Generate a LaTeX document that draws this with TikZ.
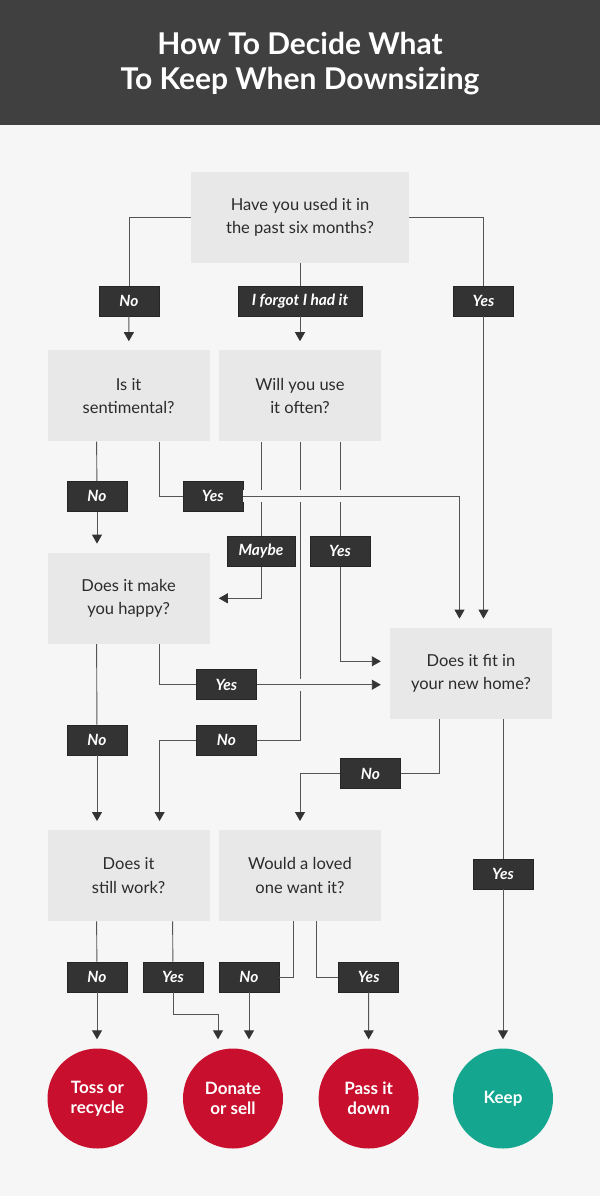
\documentclass[tikz,border=0pt]{standalone}
\usepackage{fontspec}
\setmainfont{Lato}
\usetikzlibrary{positioning,arrows.meta}

\definecolor{bgcol}{HTML}{F6F6F6}
\definecolor{headcol}{HTML}{404040}
\definecolor{boxcol}{HTML}{E8E8E8}
\definecolor{txtcol}{HTML}{2B2B2B}
\definecolor{tagcol}{HTML}{333333}
\definecolor{linecol}{HTML}{555555}
\definecolor{tosscol}{HTML}{C8102E}
\definecolor{keepcol}{HTML}{14A68E}

\tikzset{
	question/.style = {fill=boxcol, minimum width=162pt, minimum height=91pt,
		inner sep=0pt, align=center, text=txtcol,
		font=\fontsize{16.5}{23.5}\selectfont},
	answer/.style = {fill=tagcol, draw=black!85, line width=0.6pt,
		minimum width=60pt, minimum height=30pt, inner sep=0pt, text=white,
		font=\fontsize{15.5}{16}\selectfont\bfseries\itshape},
	outcome/.style = {circle, minimum size=100pt, inner sep=0pt, align=center,
		text=white, font=\fontsize{17}{20}\selectfont\bfseries},
	flow/.style = {draw=linecol, line width=0.9pt},
	arrow/.style = {flow, -{Triangle[width=10pt,length=9pt,color=tagcol]},
		shorten >=9pt},
	hop/.style = {preaction={-, draw=bgcol, line width=12pt}},
}

\begin{document}
\begin{tikzpicture}[x=1pt, y=-1pt]
	\fill[bgcol] (0,0) rectangle (600,1196);
	\useasboundingbox (0,0) rectangle (600,1196);
	\fill[headcol] (0,0) rectangle (600,125);
	\node[text=white, align=center, font=\fontsize{30}{35}\selectfont\bfseries]
		(title) at (300,64) {How To Decide What\\To Keep When Downsizing};

	% questions
	\node[question, minimum width=218pt] (have) at (300,217.5)
		{Have you used it in\\the past six months?};
	\node[question, below = 87pt of have] (often) {Will you use\\it often?};
	\node[question, left = 9pt of often] (senti) {Is it\\sentimental?};
	\node[question, below = 111pt of senti] (happy) {Does it make\\you happy?};
	\node[question, right = 180pt of happy, yshift=-75pt] (fit)
		{Does it fit in\\your new home?};
	\node[question, below = 186pt of happy] (work) {Does it\\still work?};
	\node[question, right = 9pt of work] (loved) {Would a loved\\one want it?};

	% outcomes
	\node[outcome, fill=tosscol] (toss) at (97.5,1098.5) {Toss or\\recycle};
	\node[outcome, fill=tosscol] (donate) at (233,1098.5) {Donate\\or sell};
	\node[outcome, fill=tosscol] (pass) at (368.6,1098.5) {Pass it\\down};
	\node[outcome, fill=keepcol] (keep) at (503,1098.5) {Keep};

	% answers
	\node[answer] (haveno) at (129,301) {No};
	\node[answer, minimum width=124pt] (haveforgot) at (300,301) {I forgot I had it};
	\node[answer] (haveyes) at (483.5,301) {Yes};
	\node[answer] (sentino) at (97,496.3) {No};
	\node[answer] (sentiyes) at (212.8,496.3) {Yes};
	\node[answer, minimum width=68pt] (oftenmaybe) at (261,551.3) {Maybe};
	\node[answer] (oftenyes) at (340,551.3) {Yes};
	\node[answer] (oftenno) at (226.4,740) {No};
	\node[answer] (happyyes) at (226.4,684.7) {Yes};
	\node[answer] (happyno) at (97,740) {No};
	\node[answer] (fitno) at (370.4,773.5) {No};
	\node[answer] (fityes) at (503,874) {Yes};
	\node[answer] (workno) at (97,977) {No};
	\node[answer] (workyes) at (173,977) {Yes};
	\node[answer] (lovedno) at (249,977) {No};
	\node[answer] (lovedyes) at (368.7,977) {Yes};

	% connectors that get crossed
	\draw[flow] ([xshift=-39pt]often.south) -- (oftenmaybe);
	\draw[flow] (often.south) |- (oftenno);
	\draw[flow] ([xshift=40pt]often.south) -- (oftenyes);

	\draw[flow] (have.west) -| (haveno);
	\draw[arrow] (haveno) -- (senti);
	\draw[flow] (have.south) -- (haveforgot);
	\draw[arrow] (haveforgot) -- (often);
	\draw[flow] (have.east) -| (haveyes);
	\draw[arrow] (haveyes) -- (haveyes |- fit.north);

	\draw[flow] ([xshift=-32pt]senti.south) -- (sentino);
	\draw[arrow] (sentino) -- (sentino |- happy.north);
	\draw[flow, hop] ([xshift=31pt]senti.south) |- (sentiyes);
	\draw[arrow, hop] (sentiyes) -| ([xshift=-11.5pt]fit.north);

	\draw[arrow] (oftenmaybe) |- (happy.east);
	\draw[arrow] (oftenyes) |- ([yshift=12pt]fit.west);
	\draw[arrow] (oftenno) -| ([xshift=31pt]work.north);

	\draw[flow] ([xshift=-32pt]happy.south) -- (happyno);
	\draw[arrow] (happyno) -- (happyno |- work.north);
	\draw[flow, hop] ([xshift=31pt]happy.south) |- (happyyes);
	\draw[arrow, hop] (happyyes) -- (happyyes -| fit.west);

	\draw[flow] ([xshift=-31.5pt]fit.south) |- (fitno);
	\draw[arrow] (fitno) -| (loved.north);
	\draw[flow] (fit.south -| fityes) -- (fityes);
	\draw[arrow] (fityes) -- (keep);

	\draw[flow] ([xshift=-32pt]work.south) -- (workno);
	\draw[arrow] (workno) -- (workno |- toss.north);
	\draw[flow] ([xshift=44pt]work.south) -- (workyes);
	\draw[arrow] (workyes.south) -- ++(0,22) -| ([xshift=-15pt]donate.north);

	\draw[flow] ([xshift=-7pt]loved.south) |- (lovedno);
	\draw[arrow] (lovedno) -- (lovedno |- donate.north);
	\draw[flow] ([xshift=16pt]loved.south) |- (lovedyes);
	\draw[arrow] (lovedyes) -- (pass);
\end{tikzpicture}
\end{document}
